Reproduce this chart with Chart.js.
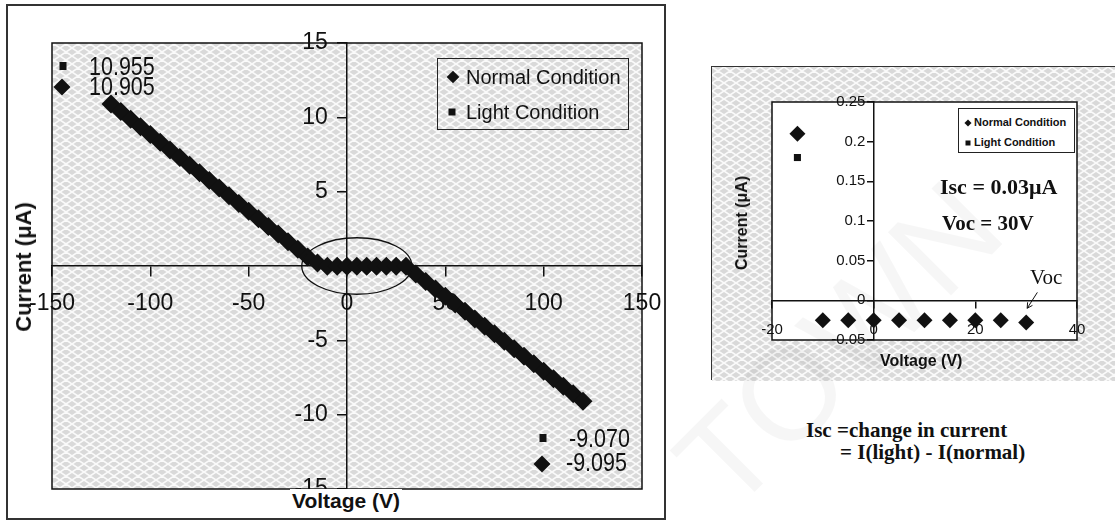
<!DOCTYPE html>
<html>
<head>
<meta charset="utf-8">
<script src="https://cdn.jsdelivr.net/npm/chart.js@4.4.1/dist/chart.umd.min.js"></script>
<style>
  body { margin: 0; width: 1115px; height: 523px; background: #fff; position: relative; overflow: hidden;
         font-family: 'Liberation Sans', Arial, sans-serif; color: #111; }
  .abs { position: absolute; white-space: nowrap; }
  canvas { position: absolute; }
  #leftFrame  { left: 6px; top: 4px; width: 656px; height: 512px; border: 2px solid #333; }
  #rightFrame { left: 711px; top: 66px; width: 400px; height: 310px; border: 2px solid #333; }
  .legend { border: 1.5px solid #222; box-sizing: border-box; }
  .dia { position: absolute; background: #111; transform: translate(-50%, -50%) rotate(45deg); }
  .sq  { position: absolute; background: #111; transform: translate(-50%, -50%); }
  .num { font-size: 25px; line-height: 24px; transform: scaleX(0.86); transform-origin: 0 50%; }
  .serif { font-family: 'Liberation Serif', 'Times New Roman', serif; font-weight: bold; }
  .vt { transform: translate(-50%, -50%) rotate(-90deg); font-weight: bold; }
</style>
</head>
<body>

<div id="leftFrame" class="abs"></div>
<div id="rightFrame" class="abs"></div>

<canvas id="leftChart" width="680" height="523" style="left:0;top:0"></canvas>
<canvas id="rightChart" width="403" height="314" style="left:712px;top:67px"></canvas>

<!-- left chart texts -->
<div class="abs vt" style="left:24px;top:267px;font-size:22px">Current (μA)</div>
<div class="abs" style="left:290px;top:489px;font-size:21px;font-weight:bold;background:#fff;line-height:24px;padding:0 2px">Voltage (V)</div>

<div class="abs legend" style="left:437px;top:58px;width:192px;height:72px"></div>
<div class="dia" style="left:453px;top:77px;width:9px;height:9px"></div>
<div class="abs" style="left:466px;top:65px;font-size:20px;line-height:24px">Normal Condition</div>
<div class="sq" style="left:452px;top:112px;width:7px;height:7px"></div>
<div class="abs" style="left:466px;top:100px;font-size:20px;line-height:24px">Light Condition</div>

<div class="sq" style="left:63px;top:66px;width:7px;height:8px"></div>
<div class="abs num" style="left:89px;top:54px">10.955</div>
<div class="dia" style="left:62px;top:87px;width:12px;height:12px"></div>
<div class="abs num" style="left:89px;top:74px">10.905</div>

<div class="sq" style="left:543px;top:438px;width:7px;height:8px"></div>
<div class="abs num" style="left:569px;top:426px">-9.070</div>
<div class="dia" style="left:542px;top:464px;width:12px;height:12px"></div>
<div class="abs num" style="left:566px;top:450px">-9.095</div>

<!-- right chart texts -->
<div class="abs vt" style="left:742px;top:223px;font-size:16px">Current (μA)</div>
<div class="abs" style="left:880px;top:352px;font-size:16px;font-weight:bold">Voltage (V)</div>

<div class="abs legend" style="left:958px;top:108px;width:117px;height:45px;background:#fff"></div>
<div class="dia" style="left:968px;top:123px;width:5px;height:5px"></div>
<div class="abs" style="left:974px;top:116px;font-size:11px;font-weight:bold">Normal Condition</div>
<div class="sq" style="left:968px;top:143px;width:5px;height:5px"></div>
<div class="abs" style="left:974px;top:136px;font-size:11px;font-weight:bold">Light Condition</div>

<div class="abs serif" style="left:940px;top:174px;font-size:22px">Isc = 0.03μA</div>
<div class="abs serif" style="left:942px;top:211px;font-size:21px">Voc = 30V</div>
<div class="abs serif" style="left:1030px;top:265px;font-size:21px;font-weight:normal">Voc</div>

<div class="abs serif" style="left:806px;top:418px;font-size:21px">Isc =change in current</div>
<div class="abs serif" style="left:840px;top:440px;font-size:21px">= I(light) - I(normal)</div>

<!-- faint watermark -->
<div class="abs" style="left:745px;top:400px;font-size:130px;line-height:130px;color:rgba(0,0,0,0.035);transform-origin:0 100%;transform:rotate(-45deg)">TOWN</div>

<script>
/* ── Data: full sweep (left) ──────────────────────────────── */
const sweepVoltage = [-120, -115, -110, -105, -100, -95, -90, -85, -80, -75, -70, -65, -60, -55, -50, -45, -40, -35, -30, -25,
                      -20, -15, -10, -5, 0, 5, 10, 15, 20, 25, 30, 35, 40, 45, 50, 55, 60, 65, 70, 75, 80, 85, 90, 95,
                      100, 105, 110, 115, 120];
const sweepNormal = [10.905, 10.39, 9.87, 9.36, 8.84, 8.33, 7.81, 7.30, 6.78, 6.27, 5.75, 5.24, 4.72, 4.21, 3.69, 3.18, 2.66, 2.15, 1.63, 1.12,
                     0.60, 0.21, -0.025, -0.025, -0.025, -0.025, -0.025, -0.025, -0.025, -0.025, -0.025, -0.53, -1.04, -1.54, -2.04, -2.55, -3.05, -3.56, -4.06, -4.56, -5.07, -5.57, -6.07, -6.58,
                     -7.08, -7.59, -8.09, -8.59, -9.095];
const sweepLight  = [10.955, 10.44, 9.92, 9.41, 8.89, 8.38, 7.86, 7.35, 6.83, 6.32, 5.80, 5.29, 4.77, 4.26, 3.74, 3.23, 2.71, 2.19, 1.68, 1.16,
                     0.64, 0.18, -0.025, -0.025, -0.025, -0.025, -0.025, -0.025, -0.025, -0.025, -0.025, -0.51, -1.02, -1.52, -2.02, -2.53, -3.03, -3.54, -4.04, -4.54, -5.05, -5.55, -6.05, -6.56,
                     -7.06, -7.57, -8.07, -8.57, -9.070];

/* ── Data: zoom near origin (right) ───────────────────────── */
const zoomVoltage = [-15, -10, -5, 0, 5, 10, 15, 20, 25, 30];
const zoomNormal  = [0.21, -0.025, -0.025, -0.025, -0.025, -0.025, -0.025, -0.025, -0.025, -0.028];
const zoomLight   = [0.18, -0.025, -0.025, -0.025, -0.025, -0.025, -0.025, -0.025, -0.025, -0.028];

const toPoints = (xs, ys) => xs.map((x, i) => ({ x, y: ys[i] }));

/* ── Shared styling helpers ───────────────────────────────── */
const INK = '#111';
const FONT = "'Liberation Sans', Arial, sans-serif";

function makeTexture(ctx) {
  const c = document.createElement('canvas');
  c.width = 12; c.height = 8;
  const g = c.getContext('2d');
  g.fillStyle = '#d9d9d9';
  g.fillRect(0, 0, 12, 8);
  g.strokeStyle = 'rgba(255,255,255,0.85)';
  g.lineWidth = 1.6;
  g.beginPath();
  g.moveTo(0, 0); g.lineTo(6, 4); g.lineTo(12, 0);
  g.moveTo(0, 8); g.lineTo(6, 4); g.lineTo(12, 8);
  g.stroke();
  return ctx.createPattern(c, 'repeat');
}

// y labels on a centred axis sit flush on the axis line, so pad them with spaces
function axisScale(min, max, step, at, fontSize, tickLen, pad, fmt) {
  return {
    type: 'linear', min, max, position: at,
    ticks: {
      stepSize: step, color: INK, padding: pad, autoSkip: false, maxRotation: 0,
      font: { family: FONT, size: fontSize },
      callback: fmt
    },
    grid: { drawOnChartArea: false, tickLength: tickLen, color: INK, lineWidth: 1.5 },
    border: { color: INK, width: 1.5 }
  };
}
const round2 = v => String(Math.round(v * 100) / 100);

/* ── Left chart: full I–V sweep ───────────────────────────── */
const ELLIPSE = { v: 5, i: 0, halfV: 28, halfI: 1.9 };

const leftPlugin = {
  id: 'leftDecor',
  beforeDraw(chart) {
    const { ctx, chartArea: a } = chart;
    ctx.save();
    ctx.fillStyle = makeTexture(ctx);
    ctx.fillRect(a.left, a.top, a.right - a.left, a.bottom - a.top);
    ctx.restore();
  },
  beforeDatasetsDraw(chart) {
    const { ctx, chartArea: a } = chart;
    ctx.save();
    ctx.strokeStyle = INK; ctx.lineWidth = 1.5;
    ctx.strokeRect(a.left, a.top, a.right - a.left, a.bottom - a.top);
    ctx.restore();
  },
  afterDatasetsDraw(chart) {
    const { ctx, scales: { x, y } } = chart;
    const cx = x.getPixelForValue(ELLIPSE.v), cy = y.getPixelForValue(ELLIPSE.i);
    const rx = x.getPixelForValue(ELLIPSE.v + ELLIPSE.halfV) - cx;
    const ry = cy - y.getPixelForValue(ELLIPSE.i + ELLIPSE.halfI);
    ctx.save();
    ctx.strokeStyle = INK; ctx.lineWidth = 1.3;
    ctx.beginPath();
    ctx.ellipse(cx, cy, rx, ry, 0, 0, Math.PI * 2);
    ctx.stroke();
    ctx.restore();
  }
};

new Chart(document.getElementById('leftChart'), {
  type: 'scatter',
  data: {
    datasets: [
      { label: 'Normal Condition', data: toPoints(sweepVoltage, sweepNormal),
        pointStyle: 'rectRot', pointRadius: 9.5, backgroundColor: INK, borderColor: INK, borderWidth: 0 },
      { label: 'Light Condition', data: toPoints(sweepVoltage, sweepLight),
        pointStyle: 'rect', pointRadius: 5.5, backgroundColor: INK, borderColor: INK, borderWidth: 0 }
    ]
  },
  options: {
    responsive: false, animation: false,
    layout: { padding: { left: 52, top: 43, right: 38, bottom: 34 } },
    plugins: { legend: { display: false }, tooltip: { enabled: false } },
    scales: {
      x: axisScale(-150, 150, 50, { y: 0 }, 23, 10, 14, v => String(v)),
      y: axisScale(-15, 15, 5, { x: 0 }, 23, 9, 8, v => v === 0 ? '' : v + '   ')
    }
  },
  plugins: [leftPlugin]
});

/* ── Right chart: zoom near the origin ────────────────────── */
const ARROW = { from: { v: 32.2, i: 0.010 }, to: { v: 30.2, i: -0.010 } };

const rightPlugin = {
  id: 'rightDecor',
  beforeDraw(chart) {
    const { ctx, chartArea: a, width, height } = chart;
    ctx.save();
    ctx.fillStyle = makeTexture(ctx);
    ctx.fillRect(0, 0, width, height);
    ctx.fillStyle = '#fff';
    ctx.fillRect(a.left, a.top, a.right - a.left, a.bottom - a.top);
    ctx.restore();
  },
  beforeDatasetsDraw(chart) {
    const { ctx, chartArea: a } = chart;
    ctx.save();
    ctx.strokeStyle = INK; ctx.lineWidth = 1.5;
    ctx.strokeRect(a.left, a.top, a.right - a.left, a.bottom - a.top);
    ctx.restore();
  },
  afterDatasetsDraw(chart) {
    const { ctx, scales: { x, y } } = chart;
    const x1 = x.getPixelForValue(ARROW.from.v), y1 = y.getPixelForValue(ARROW.from.i);
    const x2 = x.getPixelForValue(ARROW.to.v),   y2 = y.getPixelForValue(ARROW.to.i);
    const ang = Math.atan2(y2 - y1, x2 - x1);
    ctx.save();
    ctx.strokeStyle = INK; ctx.lineWidth = 1;
    ctx.beginPath();
    ctx.moveTo(x1, y1); ctx.lineTo(x2, y2);
    ctx.moveTo(x2 - 6 * Math.cos(ang - 0.5), y2 - 6 * Math.sin(ang - 0.5));
    ctx.lineTo(x2, y2);
    ctx.lineTo(x2 - 6 * Math.cos(ang + 0.5), y2 - 6 * Math.sin(ang + 0.5));
    ctx.stroke();
    ctx.restore();
  }
};

new Chart(document.getElementById('rightChart'), {
  type: 'scatter',
  data: {
    datasets: [
      { label: 'Normal Condition', data: toPoints(zoomVoltage, zoomNormal),
        pointStyle: 'rectRot', pointRadius: 8, backgroundColor: INK, borderColor: INK, borderWidth: 0 },
      { label: 'Light Condition', data: toPoints(zoomVoltage, zoomLight),
        pointStyle: 'rect', pointRadius: 5, backgroundColor: INK, borderColor: INK, borderWidth: 0 }
    ]
  },
  options: {
    responsive: false, animation: false,
    layout: { padding: { left: 60, top: 35, right: 38, bottom: 41 } },
    plugins: { legend: { display: false }, tooltip: { enabled: false } },
    scales: {
      x: axisScale(-20, 40, 20, { y: 0 }, 15, 7, 14, v => round2(v)),
      y: axisScale(-0.05, 0.25, 0.05, { x: 0 }, 15, 6, 5, v => round2(v) + '  ')
    }
  },
  plugins: [rightPlugin]
});
</script>
</body>
</html>
